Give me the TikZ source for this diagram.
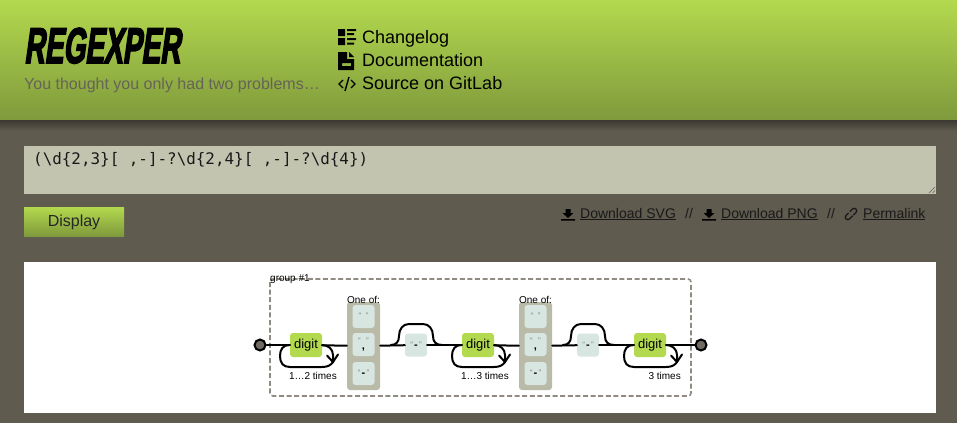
\documentclass[tikz,border=0pt]{standalone}
\usepackage{graphicx}
\usepackage{fontspec}
\setmainfont{Liberation Sans}
\setmonofont{DejaVu Sans Mono}
\newfontfamily\titlefont[FakeSlant=0.2,FakeBold=3.5,FakeStretch=0.8]{Liberation Sans Bold}
\usetikzlibrary{calc}
\definecolor{pagebg}{HTML}{5F5B4F}
\definecolor{lime}{HTML}{B3D94E}
\definecolor{limedark}{HTML}{7F9A3C}
\definecolor{sand}{HTML}{C3C4B0}
\definecolor{mint}{HTML}{D7E6E1}
\definecolor{dashc}{HTML}{8F8B82}
\newcommand{\fs}[1]{\fontsize{#1}{#1}\selectfont}
\newcommand{\lit}[2]{\fs{8}\textcolor{gray}{“}\hspace{1.2pt}\raisebox{#2}{\textcolor{black}{#1}}\hspace{1.2pt}\textcolor{gray}{”}}
\newcommand{\litdash}{\fs{11}\bfseries -}
\tikzset{
  conn/.style={draw=black,line width=2pt,line join=round,line cap=round},
  digitbox/.style={fill=lime,rounded corners=3pt,minimum width=32pt,minimum height=24pt,inner sep=0pt,font=\fs{13}},
  litbox/.style={fill=mint,rounded corners=3pt,minimum width=22pt,minimum height=23pt,inner sep=0pt},
  choicebox/.style={fill=sand!95!black,rounded corners=3pt,minimum width=33pt,minimum height=88pt,inner sep=0pt},
  endpt/.style={circle,draw=black,line width=2pt,fill=pagebg!90!white,minimum size=11pt,inner sep=0pt},
  small/.style={font=\fs{10},inner sep=0pt},
  navtext/.style={font=\fs{18},anchor=base west,inner sep=0pt,text=black},
  linktext/.style={font=\fs{14},anchor=base west,inner sep=0pt,text=black!90},
  icon/.style={fill=black,draw=none},
  iconline/.style={draw=black,line width=1.6pt}
}
\begin{document}
\begin{tikzpicture}[x=1pt,y=-1pt]
\useasboundingbox (0,0) rectangle (957,423);
\fill[pagebg] (0,0) rectangle (957,423);
% header
\shade[top color=lime,bottom color=limedark] (0,0) rectangle (957,120);
\shade[top color=pagebg!62!black,bottom color=pagebg] (0,120) rectangle (957,131);
\node[anchor=base west,inner sep=0pt] (title) at (24,63) {\resizebox{156pt}{35pt}{\titlefont REGEXPER}};
\node[anchor=base west,inner sep=0pt,font=\fs{16},text=pagebg!95!white] (tag) at (24,89) {You thought you only had two problems…};
\node[navtext] (nav1) at (362,43) {Changelog};
\node[navtext] (nav2) at (362,66) {Documentation};
\node[navtext] (nav3) at (362,89) {Source on GitLab};
% changelog icon
\fill[icon] (338,29) rectangle (345,36) (338,38) rectangle (345,45);
\fill[icon] (347,29) rectangle (356,31) (347,33) rectangle (354,35) (347,38) rectangle (356,40) (347,42.5) rectangle (354,44.5);
% documentation icon
\fill[icon,even odd rule] (338,52) -- (347,52) -- (347,59) -- (354,59) -- (354,70) -- (338,70) -- cycle (342,63) rectangle (351,66);
\fill[icon] (349,52) -- (354,57) -- (349,57) -- cycle;
% code icon
\draw[iconline,line width=1.4pt] (343,80) -- (339,84) -- (343,88) (351,80) -- (355,84) -- (351,88) (349,77) -- (345,91);
% textarea
\fill[sand] (24,146) rectangle (936,194);
\node[anchor=base west,inner sep=0pt,font=\ttfamily\fs{15.9},text=black!90] (regex) at (33,164) {(\textbackslash d\{2,3\}[ ,-]-?\textbackslash d\{2,4\}[ ,-]-?\textbackslash d\{4\})};
\draw[pagebg,line width=.6pt] (929,193) -- (935,187) (932.5,193) -- (935,190.5);
% button
\shade[top color=lime,bottom color=limedark] (24,207) rectangle (124,236);
\node[inner sep=0pt,font=\fs{16},text=black!85] (display) at (74,222) {Display};
% links
\node[linktext] (svg) at (580,218) {\underline{Download SVG}};
\node[linktext] (slash1) at (685,218) {//};
\node[linktext] (png) at (721,218) {\underline{Download PNG}};
\node[linktext] (slash2) at (827,218) {//};
\node[linktext] (perma) at (863,218) {\underline{Permalink}};
\foreach \xx in {561,702}{
  \fill[icon] (\xx+4.5,209) rectangle (\xx+9.5,213) (\xx+1.5,213) -- (\xx+12.5,213) -- (\xx+7,218) -- cycle (\xx,219) rectangle (\xx+14,220.5);
}
\begin{scope}[rotate around={45:(851,214)}]
\draw[black!90,line width=1.3pt,rounded corners=2.5pt] (850,211.5) -- (844,211.5) -- (844,216.5) -- (851,216.5);
\draw[black!90,line width=1.3pt,rounded corners=2.5pt] (852,211.5) -- (858,211.5) -- (858,216.5) -- (852,216.5);
\end{scope}
% diagram panel
\fill[white] (24,262) rectangle (936,413);
\draw[dashc,line width=1.6pt,dash pattern=on 5pt off 2.6pt,rounded corners=3pt] (270,279) rectangle (691,396);
\node[anchor=west,inner sep=0pt,font=\fs{10}] (grouplabel) at (270,279) {group \#1};
\node[endpt] (start) at (260,345) {};
\node[endpt] (finish) at (701,345) {};
% repeated parts
\foreach \i/\s/\reptext in {1/0/1…2 times,2/172/1…3 times,3/344/3 times}{
  \begin{scope}[shift={(\s,0)}]
    \node[digitbox] (d\i) at (306,345) {digit};
    \node[anchor=east,small] (rep\i) at (337,376) {\reptext};
    \draw[conn] (d\i.west) .. controls (283,345) and (280,349) .. (280,356) .. controls (280,363) and (283,367) .. (290,367) -- (322,367) .. controls (328,367) and (331,365) .. (333,362);
    \draw[conn] (d\i.east) .. controls (328,345) and (333,349) .. (333,355) -- (333,362);
    \draw[conn] (327,355.5) -- (333,362) -- (338,354.5);
  \end{scope}
}
\foreach \i/\s in {1/0,2/172}{
  \begin{scope}[shift={(\s,0)}]
    \node[choicebox] (c\i) at (363.5,346) {};
    \node[small] (oneof\i) at (363.5,300) {One of:};
    \node[litbox] (c\i a) at (363.5,316.5) {\lit{\phantom{,}}{0pt}};
    \node[litbox] (c\i b) at (363.5,344.5) {\lit{\fs{11}\bfseries ,}{-6pt}};
    \node[litbox] (c\i c) at (363.5,373.5) {\lit{\litdash}{-1pt}};
    \node[litbox] (s\i) at (416,345) {\lit{\litdash}{-1pt}};
    \draw[conn] (391,345) .. controls (396,345) and (399,342) .. (399,336) .. controls (399,329) and (403,324) .. (409,324) -- (423,324) .. controls (429,324) and (433,329) .. (433,336) .. controls (433,342) and (436,345) .. (442,345);
  \end{scope}
}
\draw[conn] (start) -- (d1);
\draw[conn] (d1) -- (c1);
\draw[conn] (c1) -- (s1);
\draw[conn] (s1) -- (d2);
\draw[conn] (d2) -- (c2);
\draw[conn] (c2) -- (s2);
\draw[conn] (s2) -- (d3);
\draw[conn] (d3) -- (finish);
\end{tikzpicture}
\end{document}
